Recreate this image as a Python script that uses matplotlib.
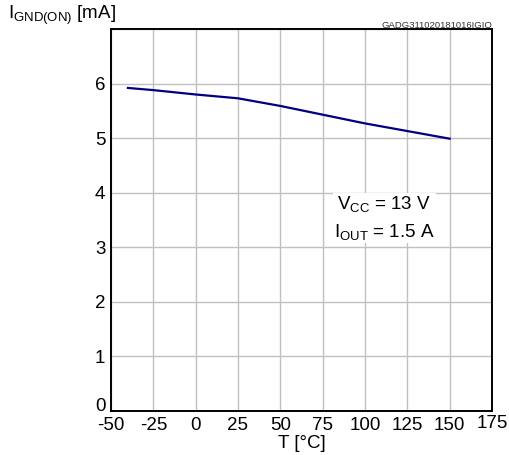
import matplotlib
matplotlib.use("Agg")
import matplotlib.pyplot as plt
from matplotlib.transforms import ScaledTranslation

plt.rcParams['font.family'] = ['Liberation Sans', 'DejaVu Sans']
plt.rcParams['mathtext.fontset'] = 'custom'
plt.rcParams['mathtext.rm'] = 'Liberation Sans'
plt.rcParams['mathtext.it'] = 'Liberation Sans'

# data
temp = [-40, -25, 0, 25, 50, 75, 100, 125, 150]
ignd = [5.92, 5.88, 5.80, 5.73, 5.59, 5.43, 5.27, 5.13, 4.99]
xticks = [-50, -25, 0, 25, 50, 75, 100, 125, 150, 175]
yticks = [0, 1, 2, 3, 4, 5, 6, 7]
ylabels = ['0', '1', '2', '3', '4', '5', '6', '']

fs = 13.5

fig = plt.figure(figsize=(5.1, 4.55), dpi=100)
ax = fig.add_axes([111 / 510, 1 - 411 / 455, 381 / 510, 382 / 455])

ax.plot(temp, ignd, color='#000080', lw=1.6)

ax.set_xlim(-50, 175)
ax.set_ylim(0, 7)
ax.set_xticks(xticks)
ax.set_xticklabels([str(t) for t in xticks])
ax.set_yticks(yticks)
ax.set_yticklabels(ylabels)
ax.tick_params(length=0, labelsize=fs, pad=4)
ax.tick_params(axis='x', pad=4.5)
ax.grid(True, color='#c0c0c0', lw=1)
ax.set_axisbelow(True)
for s in ax.spines.values():
    s.set_color('black')
    s.set_linewidth(1.4)

# small nudges like in the reference: "0" sits above the axis, "175" a bit higher
lab0 = ax.get_yticklabels()[0]
lab0.set_transform(lab0.get_transform() + ScaledTranslation(0, 4.5 / 72, fig.dpi_scale_trans))
ax.get_xticklabels()[-1].set_y(0.006)

ax.text(111.5, 3.54, 'V$_{\\mathrm{CC}}$ = 13 V\nI$_{\\mathrm{OUT}}$ = 1.5 A',
        ha='center', va='center', fontsize=fs, linespacing=1.5,
        bbox=dict(facecolor='white', edgecolor='none', pad=1))

fig.text(8 / 510, 1 - 15 / 455, 'I$_{\\mathrm{GND(ON)}}$ [mA]', fontsize=fs, va='center')
fig.text(492 / 510, 1 - 25 / 455, 'GADG311020181016IGIO', fontsize=6.8,
         ha='right', va='center', color='#333333')
fig.text(302 / 510, 1 - 444 / 455, 'T [°C]', fontsize=fs, ha='center', va='center')

fig.savefig('out.png', dpi=100)
